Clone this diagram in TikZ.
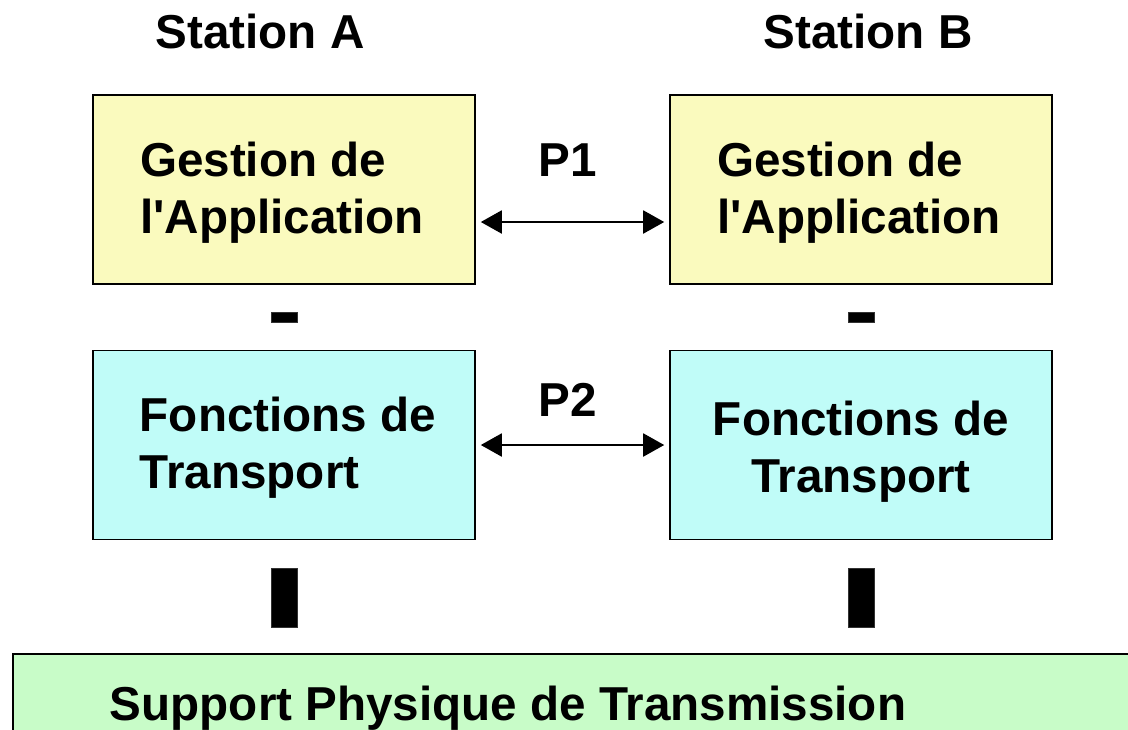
\documentclass[tikz,border=0pt]{standalone}
\usepackage{fontspec}
\setmainfont{Liberation Sans}
\usetikzlibrary{arrows.meta}
\definecolor{appyellow}{RGB}{250,250,190}
\definecolor{transcyan}{RGB}{192,252,248}
\definecolor{physgreen}{RGB}{200,252,200}
\tikzset{
  lbl/.style={font=\fontsize{23.8}{28.5}\selectfont\bfseries},
  layer/.style={draw=black, line width=0.8pt, minimum width=191pt, minimum height=94.5pt, inner sep=0pt},
  inside/.style={lbl, align=left, yshift=-1.5pt},
  bar/.style={fill=black, draw=black!80, line width=0.3pt, minimum width=13pt, inner sep=0pt},
  proto/.style={{Triangle[length=10.5pt,width=11.5pt]}-{Triangle[length=10.5pt,width=11.5pt]}, line width=1pt, shorten <=2.5pt, shorten >=2.5pt}
}
\newcommand{\appl}{Gestion de\\l\textquotesingle Application}
\begin{document}
\begin{tikzpicture}[x=0.5pt, y=-0.5pt]
      \useasboundingbox (0, 0) rectangle (1128, 729);
      \clip (0, 0) rectangle (1128, 729);
      % stations
      \node[lbl] (stA) at (260, 31) {Station A};
      \node[lbl] (stB) at (868, 31) {Station B};
      % layers
      \node[layer, fill=appyellow, label={[inside, xshift=-1pt]center:\appl}] (gestA) at (284, 189.5) {};
      \node[layer, fill=appyellow, label={[inside, xshift=-1pt]center:\appl}] (gestB) at (861, 189.5) {};
      \node[layer, fill=transcyan, label={[inside, xshift=2pt]center:Fonctions de\\Transport}] (fonA) at (284, 445) {};
      \node[layer, fill=transcyan, label={[inside, align=center, yshift=-1.75pt]center:Fonctions de\\Transport}] (fonB) at (861, 445) {};
      \draw[line width=0.8pt, fill=physgreen] (13, 654) rectangle (1150, 760);
      \node[lbl] (phys) at (508, 708) {Support Physique de Transmission};
      % links
      \node[bar, minimum height=5pt] (upA) at (284, 317) {};
      \node[bar, minimum height=5pt] (upB) at (861, 317) {};
      \node[bar, minimum height=29.5pt] (downA) at (284, 597.5) {};
      \node[bar, minimum height=29.5pt] (downB) at (861, 597.5) {};
      % protocols
      \node[lbl] (pone) at (568, 160) {P1};
      \node[lbl] (ptwo) at (568, 400) {P2};
      \draw[proto] (gestA.east |- 0, 222) -- (gestB.west |- 0, 222);
      \draw[proto] (fonA.east |- 0, 445) -- (fonB.west |- 0, 445);
\end{tikzpicture}
\end{document}
